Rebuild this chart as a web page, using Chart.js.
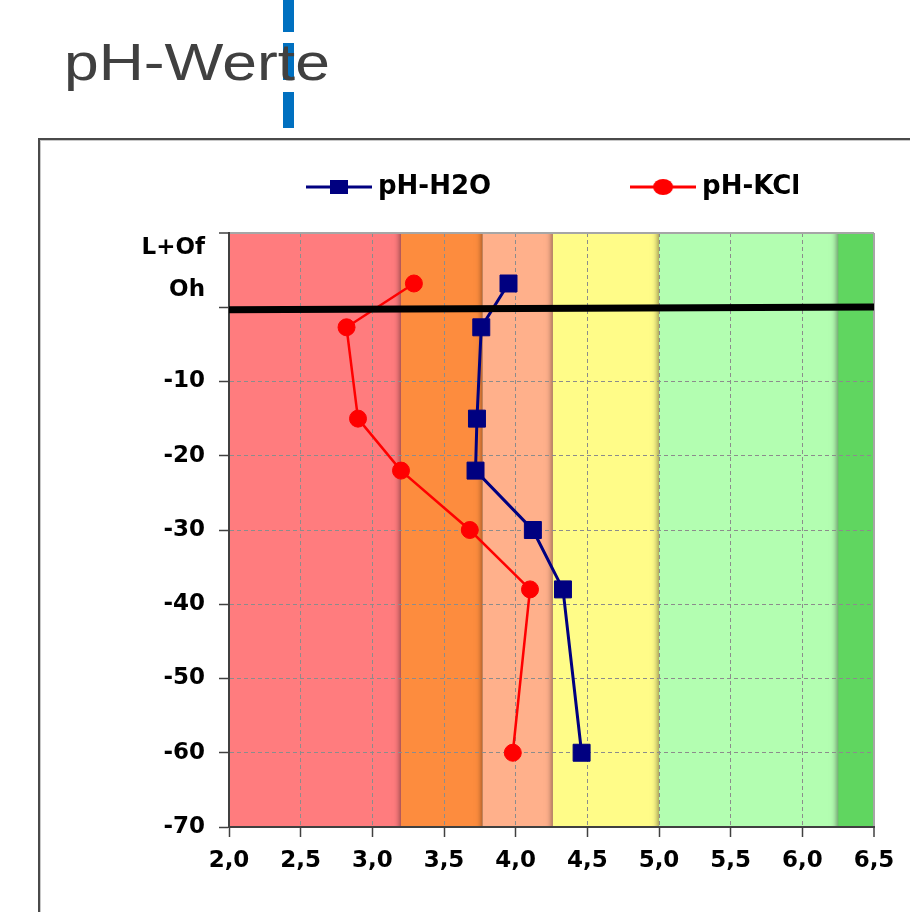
<!DOCTYPE html>
<html><head><meta charset="utf-8">
<script src="https://cdn.jsdelivr.net/npm/chart.js@4.4.1/dist/chart.umd.min.js"></script>
<style>
html,body{margin:0;padding:0;background:#fff;overflow:hidden;width:910px;height:912px;}
#frame{position:absolute;left:38px;top:138px;width:1000px;height:900px;border:2px solid #4a4a4a;box-shadow:inset 1px 1px 0 #c8c8c8;}
.blue{position:absolute;left:283px;width:11px;background:#0070C0;}
#title{position:absolute;left:64px;top:36px;font-family:"Liberation Sans",Arial,sans-serif;font-size:52px;line-height:52px;color:#404040;transform:scaleX(1.2);transform-origin:0 0;white-space:nowrap;}
#wrap{position:absolute;left:0;top:0;width:910px;height:912px;}
</style></head>
<body>
<div id="frame"></div>
<div class="blue" style="top:0;height:32px"></div>
<div class="blue" style="top:43px;height:37px"></div>
<div class="blue" style="top:92px;height:36px"></div>
<div id="title">pH-Werte</div>
<div id="wrap"><canvas id="c" width="910" height="912"></canvas></div>
<script>
// ---- data ----
const depths = [3.2, -2.7, -15, -22, -30, -38, -60];
const phH2O = [3.95, 3.76, 3.73, 3.72, 4.12, 4.33, 4.46];
const phKCl = [3.29, 2.82, 2.90, 3.20, 3.68, 4.10, 3.98];
const seriesNames = ['pH-H2O', 'pH-KCl'];
const xMin = 2.0, xMax = 6.5, xStep = 0.5;
const depthTicks = [-70, -60, -50, -40, -30, -20, -10, 0, 10];
const horizonNames = ['L+Of', 'Oh'];
const horizonDepths = [8, 2.3];
const bandLimits = [2.0, 3.2, 3.77, 4.26, 5.0, 6.25, 6.5];
const bandColors = ['#FF7C7E', '#FD8C3E', '#FFB08B', '#FFFC88', '#B3FEB1', '#60D660'];
const boundaryX = [2.0, 6.5];
const boundaryY = [-0.35, 0.05];

const NAVY = '#000080', RED = '#FF0000';
const TICK_FONT = {family: 'DejaVu Sans', weight: 'bold', size: 23};
const near = (a, b) => a !== undefined && Math.abs(a - b) < 1e-6;
const tv = ctx => (ctx && ctx.tick) ? ctx.tick.value : undefined;

function makeLegendImage(color, shape) {
  const c = document.createElement('canvas');
  c.width = 66; c.height = 22;
  const g = c.getContext('2d');
  g.strokeStyle = color; g.lineWidth = 3;
  g.beginPath(); g.moveTo(0, 11); g.lineTo(66, 11); g.stroke();
  g.fillStyle = color;
  if (shape === 'rect') { g.fillRect(24, 4, 18, 14); }
  else { g.beginPath(); g.ellipse(33, 11, 10, 8, 0, 0, Math.PI * 2); g.fill(); }
  return c;
}
const legendImgs = [makeLegendImage(NAVY, 'rect'), makeLegendImage(RED, 'circle')];

const bandPlugin = {
  id: 'bands',
  beforeDraw(chart) {
    const {ctx, chartArea: a, scales: {x}} = chart;
    ctx.save();
    ctx.beginPath();
    ctx.rect(a.left, a.top, a.right - a.left, a.bottom - a.top);
    ctx.clip();
    for (let i = 0; i < bandColors.length; i++) {
      const x0 = x.getPixelForValue(bandLimits[i]);
      const x1 = x.getPixelForValue(bandLimits[i + 1]);
      ctx.shadowColor = 'rgba(0,0,0,0.5)';
      ctx.shadowBlur = 6;
      ctx.shadowOffsetX = -1;
      ctx.fillStyle = bandColors[i];
      ctx.fillRect(x0, a.top - 30, x1 - x0, a.bottom - a.top + 60);
    }
    ctx.restore();
  }
};

const legendPlace = {
  id: 'legendPlace',
  afterLayout(chart) {
    const lg = chart.legend;
    if (!lg) return;
    lg.left = 167; lg.right = 3000; lg.top = 28; lg.bottom = chart.chartArea.top;
  }
};

new Chart(document.getElementById('c'), {
  type: 'scatter',
  data: {
    datasets: [
      {
        label: 'boundary',
        data: boundaryX.map((x, i) => ({x, y: boundaryY[i]})),
        borderColor: '#000', backgroundColor: '#000', borderWidth: 7,
        pointRadius: 0, showLine: true, clip: 0, order: 0
      },
      {
        label: seriesNames[0],
        data: phH2O.map((x, i) => ({x, y: depths[i]})),
        borderColor: NAVY, backgroundColor: NAVY, borderWidth: 3,
        pointStyle: 'rect', pointRadius: 12, pointBorderWidth: 1,
        showLine: true, order: 1
      },
      {
        label: seriesNames[1],
        data: phKCl.map((x, i) => ({x, y: depths[i]})),
        borderColor: RED, backgroundColor: RED, borderWidth: 2.5,
        pointStyle: 'circle', pointRadius: 8.5, pointBorderWidth: 1,
        showLine: true, order: 2
      }
    ]
  },
  options: {
    responsive: false,
    animation: false,
    layout: {padding: {left: 0, right: 36, top: 51, bottom: 0}},
    plugins: {
      tooltip: {enabled: false},
      legend: {
        display: true, position: 'top', align: 'start',
        labels: {
          usePointStyle: true, pointStyleWidth: 52, padding: 146, color: '#000',
          font: {family: 'DejaVu Sans', weight: 'bold', size: 26},
          generateLabels: () => seriesNames.map((name, i) => ({
            text: name, pointStyle: legendImgs[i], fillStyle: 'transparent',
            strokeStyle: 'transparent', lineWidth: 0, hidden: false,
            datasetIndex: i + 1, fontColor: '#000'
          }))
        }
      }
    },
    scales: {
      x: {
        type: 'linear', min: xMin, max: xMax,
        afterFit(scale) { scale.height = 85; },
        ticks: {
          stepSize: xStep, autoSkip: false, maxRotation: 0, padding: 10,
          color: '#000', font: TICK_FONT,
          callback: v => Number(v).toFixed(1).replace('.', ',')
        },
        grid: {
          color: ctx => near(tv(ctx), xMin) ? 'rgba(0,0,0,0)' : near(tv(ctx), xMax) ? '#A6A6A6' : '#8C8C8C',
          lineWidth: ctx => near(tv(ctx), xMax) ? 2 : 1,
          tickColor: '#404040', tickWidth: 1.5, tickLength: 10, drawTicks: true
        },
        border: {
          color: '#404040', width: 2,
          dash: ctx => near(tv(ctx), xMax) ? [] : [4, 3]
        }
      },
      y: {
        type: 'linear', min: -70, max: 10,
        afterBuildTicks(scale) {
          scale.ticks = depthTicks.concat(horizonDepths).sort((a, b) => a - b).map(v => ({value: v}));
        },
        afterFit(scale) { scale.width = 229; },
        ticks: {
          autoSkip: false, padding: 14, color: '#000', font: TICK_FONT,
          callback: v => {
            const h = horizonDepths.indexOf(v);
            if (h >= 0) return horizonNames[h];
            if (v === 0 || v === 10) return '';
            return String(v);
          }
        },
        grid: {
          color: ctx => {
            const v = tv(ctx);
            if (horizonDepths.includes(v) || near(v, 0)) return 'rgba(0,0,0,0)';
            if (near(v, 10)) return '#A6A6A6';
            return '#8C8C8C';
          },
          lineWidth: ctx => near(tv(ctx), 10) ? 2 : 1,
          tickColor: ctx => horizonDepths.includes(tv(ctx)) ? 'rgba(0,0,0,0)' : '#404040',
          tickWidth: 1.5, tickLength: 10, drawTicks: true
        },
        border: {
          color: '#404040', width: 2,
          dash: ctx => near(tv(ctx), 10) ? [] : [4, 3]
        }
      }
    }
  },
  plugins: [bandPlugin, legendPlace]
});
</script>
</body></html>
